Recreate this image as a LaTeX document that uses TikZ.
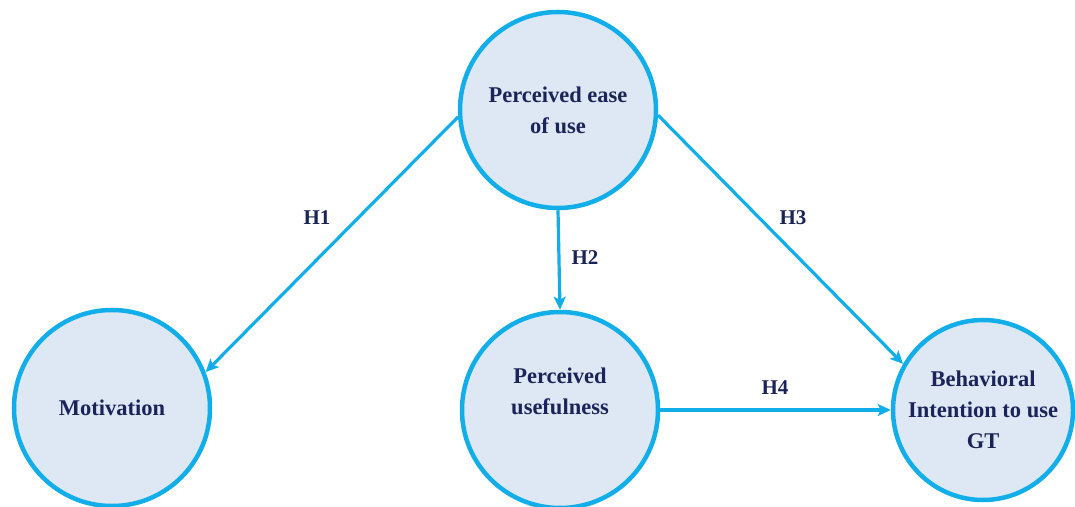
\documentclass[tikz,border=0pt]{standalone}
\usepackage{fontspec}
\setmainfont{Liberation Serif}
\usetikzlibrary{arrows.meta}
\definecolor{edgeblue}{HTML}{12AEEA}
\definecolor{fillblue}{HTML}{DEE8F5}
\definecolor{navy}{HTML}{1B2458}
\begin{document}
\begin{tikzpicture}[x=1pt,y=1pt,
  construct/.style={circle, draw=edgeblue, line width=4.5pt, fill=fillblue, inner sep=0pt,
    text=navy, font=\fontsize{22.5}{31}\selectfont\bfseries, align=center},
  link/.style={draw=edgeblue, line width=3.2pt, -{Stealth[length=13pt,width=12pt,inset=3pt]}},
  hyp/.style={text=navy, font=\fontsize{21}{24}\selectfont\bfseries}]
\useasboundingbox (0,0) rectangle (1075,506);
\node[construct, minimum size=196pt] (pe) at (558,396) {Perceived ease\\of use};
\node[construct, minimum size=196pt] (mot) at (112,98) {Motivation};
\node[construct, minimum size=196pt] (pu) at (560,96) {Perceived\\usefulness\\[6pt]};
\node[construct, minimum size=180pt] (bi) at (983,96) {Behavioral\\Intention to use\\GT};
\draw[link] (pe.184) -- (mot.21);
\draw[link] (pe.south) -- (pu.north);
\draw[link] (pe.357) -- (bi.150);
\draw[link] (pu.east) -- (bi.west);
\node[hyp] (h1) at (317,288) {H1};
\node[hyp] (h2) at (585,248) {H2};
\node[hyp] (h3) at (793,288) {H3};
\node[hyp] (h4) at (775,118) {H4};
\end{tikzpicture}
\end{document}
